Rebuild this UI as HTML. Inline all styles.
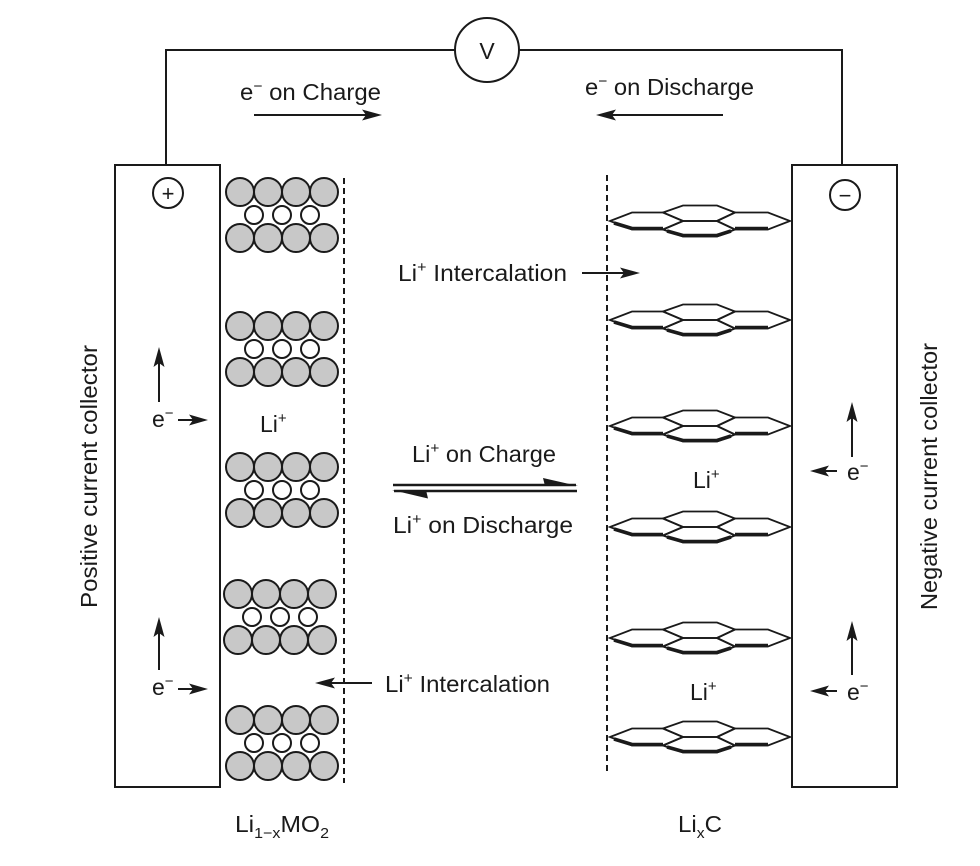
<!DOCTYPE html>
<html>
<head>
<meta charset="utf-8">
<style>
  html,body{margin:0;padding:0;background:#fff;}
  svg{display:block;}
  text{font-family:"Liberation Sans", Arial, sans-serif; fill:#1a1a1a;}
</style>
</head>
<body>
<svg width="980" height="866" viewBox="0 0 980 866" xmlns="http://www.w3.org/2000/svg">
  <rect x="0" y="0" width="980" height="866" fill="#fff"/>
  <defs>
    <g id="hex">
      <g fill="none" stroke="#1a1a1a" stroke-width="1.8" stroke-linejoin="miter">
        <path d="M610,0 L632,-8.5 L663,-8.5 L683,0 L663,8.5 L632,8.5 Z"/>
        <path d="M663,-8.5 L683,-15.5 L717,-15.5 L735,-8.5 L717,0 L683,0 Z"/>
        <path d="M663,8.5 L683,0 L717,0 L735,8.5 L717,15.5 L683,15.5 Z"/>
        <path d="M717,0 L735,-8.5 L768,-8.5 L790,0 L768,8.5 L735,8.5 Z"/>
      </g>
      <g fill="none" stroke="#1a1a1a" stroke-width="3.6" stroke-linejoin="round">
        <path d="M614,2 L632,7.5 L663,7.5"/>
        <path d="M667,10 L683,14.5 L717,14.5 L731,10"/>
        <path d="M735,7.5 L768,7.5"/>
      </g>
    </g>
    <g id="layer" stroke="#1a1a1a" stroke-width="2">
      <circle cx="240" cy="0" r="14" fill="#c8c8c8"/>
      <circle cx="268" cy="0" r="14" fill="#c8c8c8"/>
      <circle cx="296" cy="0" r="14" fill="#c8c8c8"/>
      <circle cx="324" cy="0" r="14" fill="#c8c8c8"/>
      <circle cx="240" cy="46" r="14" fill="#c8c8c8"/>
      <circle cx="268" cy="46" r="14" fill="#c8c8c8"/>
      <circle cx="296" cy="46" r="14" fill="#c8c8c8"/>
      <circle cx="324" cy="46" r="14" fill="#c8c8c8"/>
      <circle cx="254" cy="23" r="9" fill="#fff"/>
      <circle cx="282" cy="23" r="9" fill="#fff"/>
      <circle cx="310" cy="23" r="9" fill="#fff"/>
    </g>
  </defs>

  <!-- wires -->
  <g fill="none" stroke="#1a1a1a" stroke-width="2">
    <polyline points="166,165 166,50 455,50"/>
    <polyline points="519,50 842,50 842,165"/>
    <circle cx="487" cy="50" r="32"/>
    <rect x="115" y="165" width="105" height="622"/>
    <rect x="792" y="165" width="105" height="622"/>
    <circle cx="168" cy="193" r="15"/>
    <circle cx="845" cy="195" r="15"/>
  </g>
  <text x="487" y="59" font-size="23" text-anchor="middle">V</text>
  <text x="168" y="201" font-size="22" text-anchor="middle">+</text>
  <text x="845" y="203" font-size="22" text-anchor="middle">−</text>

  <!-- dashed separators -->
  <g stroke="#1a1a1a" stroke-width="2" stroke-dasharray="6,4">
    <line x1="344" y1="178" x2="344" y2="783"/>
    <line x1="607" y1="175" x2="607" y2="771"/>
  </g>

  <!-- cathode layers -->
  <use href="#layer" transform="translate(0,192)"/>
  <use href="#layer" transform="translate(0,326)"/>
  <use href="#layer" transform="translate(0,467)"/>
  <use href="#layer" transform="translate(-2,594)"/>
  <use href="#layer" transform="translate(0,720)"/>

  <!-- graphite layers -->
  <use href="#hex" transform="translate(0,221)"/>
  <use href="#hex" transform="translate(0,320)"/>
  <use href="#hex" transform="translate(0,426)"/>
  <use href="#hex" transform="translate(0,527)"/>
  <use href="#hex" transform="translate(0,638)"/>
  <use href="#hex" transform="translate(0,737)"/>

  <!-- arrows: lines -->
  <g stroke="#1a1a1a" stroke-width="2" fill="none">
    <line x1="254" y1="115" x2="370" y2="115"/>
    <line x1="723" y1="115" x2="608" y2="115"/>
    <line x1="582" y1="273" x2="628" y2="273"/>
    <line x1="372" y1="683" x2="326" y2="683"/>
    <line x1="159" y1="402" x2="159" y2="360"/>
    <line x1="159" y1="670" x2="159" y2="630"/>
    <line x1="178" y1="420" x2="197" y2="420"/>
    <line x1="178" y1="689" x2="197" y2="689"/>
    <line x1="852" y1="457" x2="852" y2="415"/>
    <line x1="852" y1="675" x2="852" y2="634"/>
    <line x1="837" y1="471" x2="821" y2="471"/>
    <line x1="837" y1="691" x2="821" y2="691"/>
  </g>
  <!-- arrowheads -->
  <g fill="#1a1a1a">
    <path d="M382,115 L362,109.5 L366,115 L362,120.5 Z"/>
    <path d="M596,115 L616,109.5 L612,115 L616,120.5 Z"/>
    <path d="M640,273 L620,267.5 L624,273 L620,278.5 Z"/>
    <path d="M315,683 L335,677.5 L331,683 L335,688.5 Z"/>
    <path d="M159,347 L153.5,367 L159,363 L164.5,367 Z"/>
    <path d="M159,617 L153.5,637 L159,633 L164.5,637 Z"/>
    <path d="M208,420 L189,414.5 L193,420 L189,425.5 Z"/>
    <path d="M208,689 L189,683.5 L193,689 L189,694.5 Z"/>
    <path d="M852,402 L846.5,422 L852,418 L857.5,422 Z"/>
    <path d="M852,621 L846.5,641 L852,637 L857.5,641 Z"/>
    <path d="M810,471 L829,465.5 L825,471 L829,476.5 Z"/>
    <path d="M810,691 L829,685.5 L825,691 L829,696.5 Z"/>
  </g>

  <!-- equilibrium harpoons -->
  <g stroke="#1a1a1a" stroke-width="2.4">
    <line x1="393" y1="485" x2="576" y2="485"/>
    <line x1="394" y1="491" x2="577" y2="491"/>
  </g>
  <g fill="#1a1a1a">
    <path d="M578,486 L543,478 L545,486 Z"/>
    <path d="M392,490 L428,498.5 L426,490 Z"/>
  </g>

  <!-- labels -->
  <text x="240" y="100" font-size="23" textLength="141" lengthAdjust="spacingAndGlyphs">e<tspan font-size="15" dy="-9">−</tspan><tspan dy="9"> on Charge</tspan></text>
  <text x="585" y="95" font-size="23" textLength="169" lengthAdjust="spacingAndGlyphs">e<tspan font-size="15" dy="-9">−</tspan><tspan dy="9"> on Discharge</tspan></text>

  <text x="398" y="281" font-size="23" textLength="169" lengthAdjust="spacingAndGlyphs">Li<tspan font-size="15" dy="-9">+</tspan><tspan dy="9"> Intercalation</tspan></text>
  <text x="385" y="692" font-size="23" textLength="165" lengthAdjust="spacingAndGlyphs">Li<tspan font-size="15" dy="-9">+</tspan><tspan dy="9"> Intercalation</tspan></text>

  <text x="412" y="462" font-size="23" textLength="144" lengthAdjust="spacingAndGlyphs">Li<tspan font-size="15" dy="-9">+</tspan><tspan dy="9"> on Charge</tspan></text>
  <text x="393" y="533" font-size="23" textLength="180" lengthAdjust="spacingAndGlyphs">Li<tspan font-size="15" dy="-9">+</tspan><tspan dy="9"> on Discharge</tspan></text>

  <text x="260" y="432" font-size="23">Li<tspan font-size="15" dy="-9">+</tspan></text>
  <text x="693" y="488" font-size="23">Li<tspan font-size="15" dy="-9">+</tspan></text>
  <text x="690" y="700" font-size="23">Li<tspan font-size="15" dy="-9">+</tspan></text>

  <text x="152" y="427" font-size="23">e<tspan font-size="15" dy="-9">−</tspan></text>
  <text x="152" y="695" font-size="23">e<tspan font-size="15" dy="-9">−</tspan></text>
  <text x="847" y="480" font-size="23">e<tspan font-size="15" dy="-9">−</tspan></text>
  <text x="847" y="700" font-size="23">e<tspan font-size="15" dy="-9">−</tspan></text>

  <text x="235" y="832" font-size="23" textLength="94" lengthAdjust="spacingAndGlyphs">Li<tspan font-size="15" dy="6">1−x</tspan><tspan dy="-6">MO</tspan><tspan font-size="15" dy="6">2</tspan></text>
  <text x="678" y="832" font-size="23" textLength="44" lengthAdjust="spacingAndGlyphs">Li<tspan font-size="15" dy="6">x</tspan><tspan dy="-6">C</tspan></text>

  <text transform="translate(97,608) rotate(-90)" x="0" y="0" font-size="23" textLength="263" lengthAdjust="spacingAndGlyphs">Positive current collector</text>
  <text transform="translate(937,610) rotate(-90)" x="0" y="0" font-size="23" textLength="267" lengthAdjust="spacingAndGlyphs">Negative current collector</text>
</svg>
</body>
</html>
